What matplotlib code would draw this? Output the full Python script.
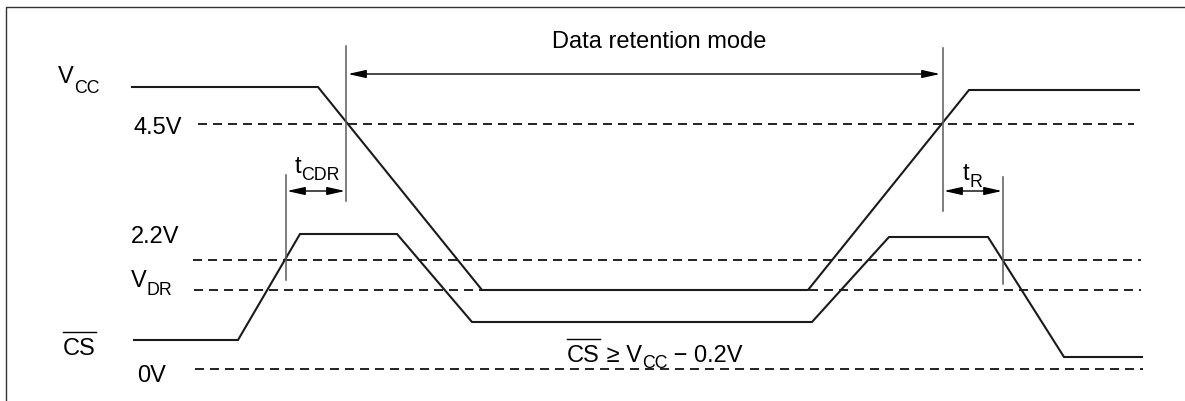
import numpy as np
import matplotlib
matplotlib.use("Agg")
import matplotlib.pyplot as plt

plt.rcParams['font.family'] = ['Liberation Sans', 'DejaVu Sans']
plt.rcParams['lines.scale_dashes'] = False

# waveform data (time axis, level axis in drawing units, y grows downwards)
vcc_t = [132, 318, 482, 808, 969, 1139]
vcc_y = [88, 88, 291, 291, 91, 91]
cs_t = [134, 238, 300, 397, 472, 812, 889, 988, 1064, 1142]
cs_y = [341, 341, 235, 235, 323, 323, 238, 238, 358, 358]

# reference levels: 4.5V, 2.2V, VDR, 0V
level_y = [125, 261, 291, 370]
level_x0 = [198, 193, 194, 195]
level_x1 = [1134, 1141, 1141, 1143]

# timing markers
mark_x = [346, 943, 286, 1003]
mark_top = [47, 49, 176, 178]
mark_bot = [202, 212, 281, 285]

MAIN = 17
SUB = 12.8

fig = plt.figure(figsize=(11.85, 4.02), dpi=100)
ax = fig.add_axes([0, 0, 1, 1])
ax.set_xlim(0, 1185)
ax.set_ylim(402, 0)
ax.axis('off')
renderer = fig.canvas.get_renderer()

# frame
ax.plot([6, 6, 1185], [402, 8, 8], color='#333333', lw=1.0)

# dashed levels
for y, x0, x1 in zip(level_y, level_x0, level_x1):
    ax.plot([x0, x1], [y, y], color='#222222', lw=1.4, dashes=(6.5, 4.3))

# signals
ax.plot(vcc_t, vcc_y, color='#1a1a1a', lw=1.5, solid_joinstyle='miter')
ax.plot(cs_t, cs_y, color='#1a1a1a', lw=1.5, solid_joinstyle='miter')

# markers
for x, a, b in zip(mark_x, mark_top, mark_bot):
    ax.plot([x, x], [a, b], color='#5a5a5a', lw=1.1)

def arrow(x0, x1, y):
    ax.annotate('', xy=(x1, y), xytext=(x0, y),
                arrowprops=dict(arrowstyle='<|-|>,head_length=0.8,head_width=0.18',
                                mutation_scale=13.5, color='black', lw=1.0,
                                shrinkA=0, shrinkB=0))

arrow(mark_x[0] + 2, mark_x[1] - 3, 75)
arrow(mark_x[2] + 1, mark_x[0] - 1, 192)
arrow(mark_x[1] + 1, mark_x[3] - 1, 192)

def run(x, y, parts):
    # parts: (text, size, baseline shift px, overline)
    for s, fs, dy, over in parts:
        t = ax.text(x, y + dy, s, fontsize=fs, ha='left', va='baseline', color='black')
        bb = t.get_window_extent(renderer).transformed(ax.transData.inverted())
        x0, x1 = min(bb.x0, bb.x1), max(bb.x0, bb.x1)
        if over:
            yo = y + dy - 0.716 * fs * 100 / 72 - 5
            ax.plot([x0, x1], [yo, yo], color='black', lw=1.0)
        x = x1

run(58, 83, [('V', MAIN, 0, False), ('CC', SUB, 10, False)])
run(133, 134, [('4.5V', MAIN, 0, False)])
run(131, 243, [('2.2V', MAIN, 0, False)])
run(131, 287, [('V', MAIN, 0, False), ('DR', SUB, 8, False)])
run(63, 355, [('CS', MAIN, 0, True)])
run(137, 382, [('0V', MAIN, 0, False)])
run(552, 48, [('Data retention mode', MAIN, 0, False)])
run(295, 173, [('t', MAIN, 0, False), ('CDR', SUB, 7, False)])
run(963, 180, [('t', MAIN, 0, False), ('R', SUB, 7, False)])
run(567, 362, [('CS', MAIN, 0, True), (' \u2265 V', MAIN, 0, False),
               ('CC', SUB, 6, False), (' \u2212 0.2V', MAIN, 0, False)])

fig.savefig('out.png', dpi=100, facecolor='white')
